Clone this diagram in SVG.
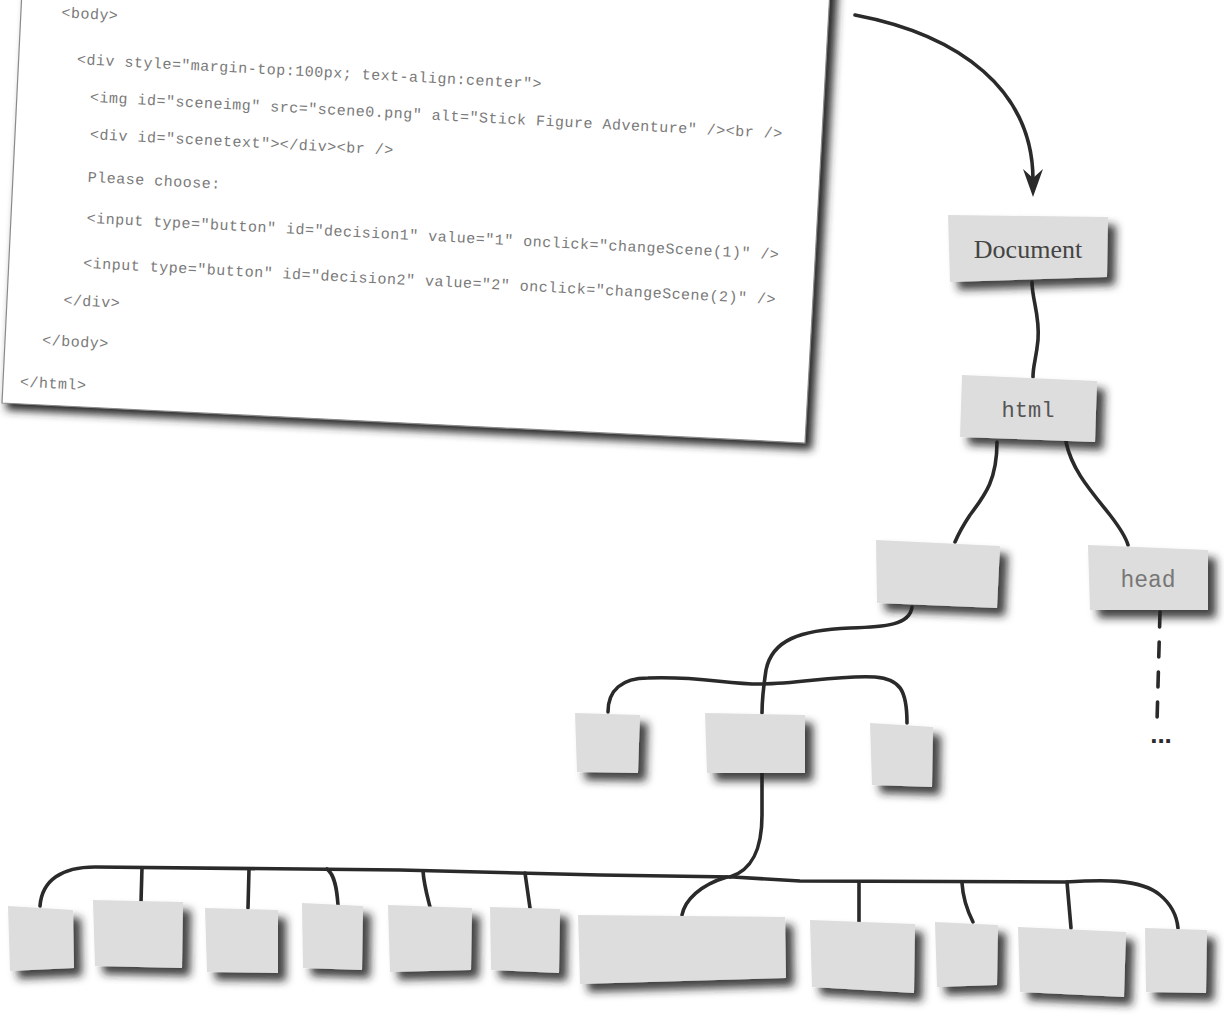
<svg xmlns="http://www.w3.org/2000/svg" width="1224" height="1015" viewBox="0 0 1224 1015">
<defs>
<filter id="shadow" x="-20%" y="-20%" width="150%" height="160%">
<feDropShadow dx="8" dy="8" stdDeviation="4" flood-color="#222222" flood-opacity="0.85"/>
</filter>
<filter id="pblur" x="-5%" y="-5%" width="110%" height="120%">
<feGaussianBlur stdDeviation="4.5"/>
</filter>
<marker id="arrow" viewBox="0 0 30 20" refX="11" refY="10" markerWidth="30" markerHeight="20" markerUnits="userSpaceOnUse" orient="auto">
<path d="M0,0 L28,10 L0,20 L9,10 Z" fill="#2a2a2a"/>
</marker>
<style>
.node{fill:#dddddd;filter:url(#shadow);}
.code{font-family:"Liberation Mono",monospace;font-size:15px;letter-spacing:0.5px;fill:#7a7a7a;}
.wire{fill:none;stroke:#2a2a2a;stroke-width:3.6;stroke-linecap:round;}
.lbl{text-anchor:middle;}
</style>
</defs>
<rect x="0" y="0" width="1224" height="1015" fill="#ffffff"/>
<g id="paper">
<polygon points="28,-10 838,-10 812,450 6,410" fill="#2a2a2a" filter="url(#pblur)"/>
<polygon points="22,-10 830,-10 805,443 2,403" fill="#ffffff" stroke="#8a8a8a" stroke-width="1.2"/>
<g transform="rotate(3)">
<text class="code" x="62" y="14">&lt;body&gt;</text>
<text class="code" x="80" y="60">&lt;div style="margin-top:100px; text-align:center"&gt;</text>
<text class="code" x="95" y="97">&lt;img id="sceneimg" src="scene0.png" alt="Stick Figure Adventure" /&gt;&lt;br /&gt;</text>
<text class="code" x="97" y="134">&lt;div id="scenetext"&gt;&lt;/div&gt;&lt;br /&gt;</text>
<text class="code" x="97" y="177">Please choose:</text>
<text class="code" x="98" y="218">&lt;input type="button" id="decision1" value="1" onclick="changeScene(1)" /&gt;</text>
<text class="code" x="97" y="263">&lt;input type="button" id="decision2" value="2" onclick="changeScene(2)" /&gt;</text>
<text class="code" x="79" y="301">&lt;/div&gt;</text>
<text class="code" x="60" y="342">&lt;/body&gt;</text>
<text class="code" x="40" y="385">&lt;/html&gt;</text>
</g>
</g>
<g id="connectors">
<path class="wire" d="M855,15 C960,35 1033,90 1033,180" marker-end="url(#arrow)"/>
<path class="wire" d="M1032,282 C1032,300 1040,315 1038,340 C1036,360 1033,365 1033,377"/>
<path class="wire" d="M997,442 C997,480 985,495 970,515 C962,527 958,535 955,542"/>
<path class="wire" d="M1066,442 C1072,470 1090,490 1110,515 C1120,528 1126,538 1128,545"/>
<path class="wire" d="M1160,612 L1157,722" stroke-dasharray="15,15" stroke-linecap="butt"/>
<path class="wire" d="M912,607 C910,625 885,627 850,628 C800,630 772,640 766,670 C763,690 762,700 762,713"/>
<path class="wire" d="M608,712 C608,690 622,678 648,678 C700,676 725,684 760,684 C800,684 835,675 875,677 C900,679 907,690 907,723"/>
<path class="wire" d="M762,773 L762,815 C762,850 752,870 730,877"/>
<path class="wire" d="M40,906 C42,880 62,867 95,867 L400,870 L600,875 L733,877 L800,881 L1065,882 C1100,880 1140,878 1160,895 C1172,905 1177,918 1178,928"/>
<path class="wire" d="M142,868 L141,902"/>
<path class="wire" d="M249,869 L248,908"/>
<path class="wire" d="M327,869 C335,875 337,890 338,905"/>
<path class="wire" d="M423,871 C424,885 427,895 430,907"/>
<path class="wire" d="M525,873 L530,908"/>
<path class="wire" d="M727,877 C700,885 685,900 682,915"/>
<path class="wire" d="M859,883 L859,922"/>
<path class="wire" d="M962,883 C963,900 968,912 973,922"/>
<path class="wire" d="M1067,882 L1071,928"/>
</g>
<g id="node-document">
<polygon class="node" points="948,215 1108,217 1107,277 950,282"/>
<text class="lbl" x="1028" y="258" font-family="Liberation Serif, serif" font-size="26" fill="#444444">Document</text>
</g>
<g id="node-html">
<polygon class="node" points="962,375 1097,381 1095,442 960,437"/>
<text class="lbl" x="1028" y="417" font-family="Liberation Mono, monospace" font-size="22" fill="#555555">html</text>
</g>
<g id="node-body">
<polygon class="node" points="876,540 1000,546 997,608 877,603"/>
</g>
<g id="node-head">
<polygon class="node" points="1088,545 1208,550 1208,610 1090,610"/>
<text class="lbl" x="1148" y="587" font-family="Liberation Mono, monospace" font-size="23" fill="#777777">head</text>
</g>
<g id="node-more">
<text class="lbl" x="1161" y="743" font-family="Liberation Sans, sans-serif" font-size="26" font-weight="bold" fill="#2a2a2a">...</text>
</g>
<g id="node-mid1"><polygon class="node" points="575,713 640,715 638,773 577,772"/></g>
<g id="node-mid2"><polygon class="node" points="705,713 805,715 805,773 707,773"/></g>
<g id="node-mid3"><polygon class="node" points="870,723 933,727 932,787 872,785"/></g>
<g id="node-b1"><polygon class="node" points="8,906 73,910 74,968 10,971"/></g>
<g id="node-b2"><polygon class="node" points="93,900 183,902 182,968 95,966"/></g>
<g id="node-b3"><polygon class="node" points="205,908 278,910 278,973 207,972"/></g>
<g id="node-b4"><polygon class="node" points="302,903 363,906 362,970 303,968"/></g>
<g id="node-b5"><polygon class="node" points="388,905 472,908 471,970 390,972"/></g>
<g id="node-b6"><polygon class="node" points="490,907 560,909 559,973 491,970"/></g>
<g id="node-b7"><polygon class="node" points="578,915 785,917 786,978 580,984"/></g>
<g id="node-b8"><polygon class="node" points="810,920 915,924 914,993 812,987"/></g>
<g id="node-b9"><polygon class="node" points="935,922 998,925 997,985 937,987"/></g>
<g id="node-b10"><polygon class="node" points="1018,927 1126,932 1124,997 1020,992"/></g>
<g id="node-b11"><polygon class="node" points="1145,928 1207,930 1206,993 1146,992"/></g>
</svg>
